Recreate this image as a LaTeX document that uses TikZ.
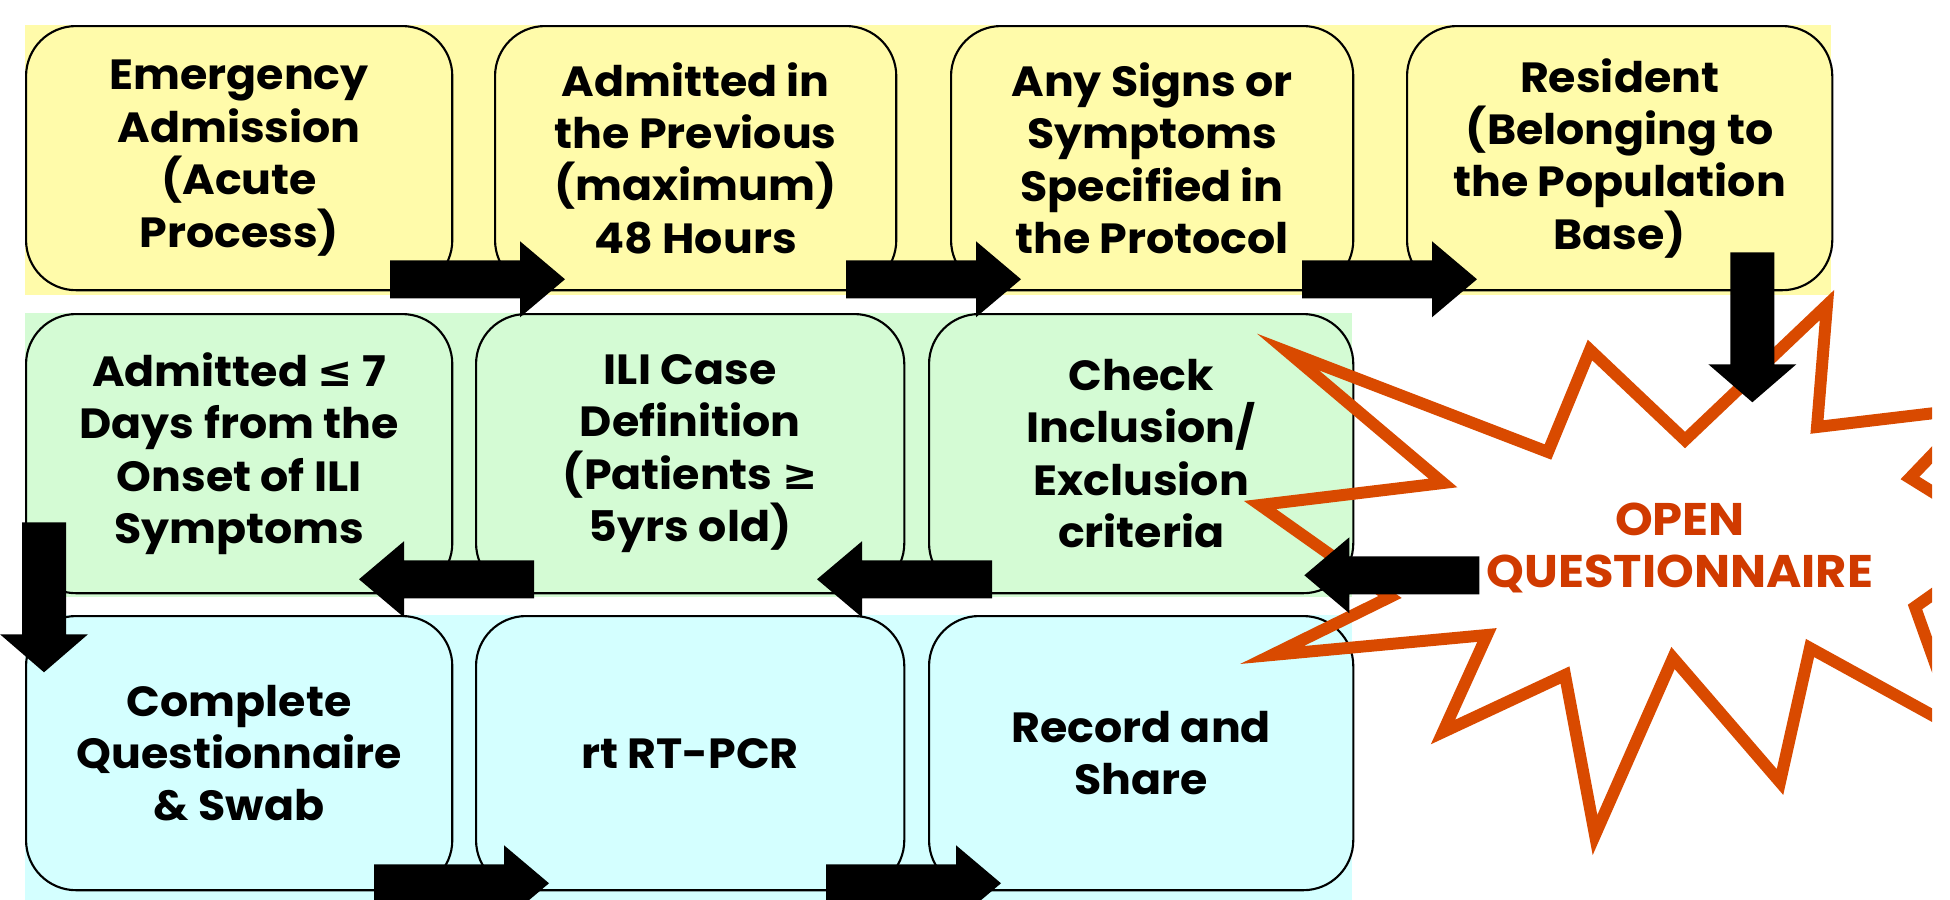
\documentclass[tikz,border=0pt]{standalone}
\usepackage{fontspec}
\setmainfont{Poppins}[FakeStretch=1.05]
\newfontfamily\symfont{DejaVu Sans}
\usetikzlibrary{calc,positioning}

\definecolor{rowyellow}{RGB}{255,251,170}
\definecolor{rowgreen}{RGB}{212,251,212}
\definecolor{rowcyan}{RGB}{212,255,255}
\definecolor{burstline}{RGB}{217,74,0}
\definecolor{bursttext}{RGB}{208,58,0}

% block arrows, drawn pointing right from the tail at (0,0)
\tikzset{
  pics/harrow/.style={code={
    \fill (0,-19) -- (130,-19) -- (130,-38) -- (175,0) -- (130,38) -- (130,19) -- (0,19) -- cycle;}},
  pics/varrow/.style={code={
    \fill (0,-22) -- (112,-22) -- (112,-44) -- (150,0) -- (112,44) -- (112,22) -- (0,22) -- cycle;}},
  stage/.style={draw, line width=0.6pt, rounded corners=0.5cm, fill=#1, anchor=north west,
    align=center, inner sep=0pt, font=\bfseries\fontsize{12}{14.9}\selectfont}
}

\begin{document}
\begin{tikzpicture}[x=0.01cm,y=-0.01cm]
\useasboundingbox (0,0) rectangle (1950,900);

% row backgrounds
\fill[rowyellow] (25,25) rectangle (1831,295);
\fill[rowgreen] (25,313) rectangle (1352,597);
\fill[rowcyan] (25,615) rectangle (1352,900);

% first row: admission
\node[stage=rowyellow, minimum width=4.26cm, minimum height=2.64cm] (e1) at (25,25)
  {Emergency\\Admission\\(Acute\\Process)};
\node[stage=rowyellow, minimum width=4.01cm, minimum height=2.64cm] (e2) at (494,25)
  {Admitted in\\the Previous\\(maximum)\\48 Hours};
\node[stage=rowyellow, minimum width=4.02cm, minimum height=2.64cm] (e3) at (950,25)
  {Any Signs or\\Symptoms\\Specified in\\the Protocol};
\node[stage=rowyellow, minimum width=4.25cm, minimum height=2.64cm] (e4) at (1406,25)
  {Resident\\(Belonging to\\the Population\\Base)};

% second row: eligibility
\node[stage=rowgreen, minimum width=4.26cm, minimum height=2.79cm] (c1) at (25,313)
  {Admitted {\symfont\bfseries≤} 7\\Days from the\\Onset of ILI\\Symptoms};
\node[stage=rowgreen, minimum width=4.28cm, minimum height=2.79cm] (c2) at (475,313)
  {ILI Case\\Definition\\(Patients {\symfont\bfseries≥}\\5yrs old)};
\node[stage=rowgreen, minimum width=4.24cm, minimum height=2.79cm] (c3) at (928,313)
  {Check\\Inclusion/\\Exclusion\\criteria};

% third row: sampling
\node[stage=rowcyan, minimum width=4.26cm, minimum height=2.74cm] (r1) at (25,615)
  {Complete\\Questionnaire\\\& Swab};
\node[stage=rowcyan, minimum width=4.28cm, minimum height=2.74cm] (r2) at (475,615)
  {rt RT-PCR};
\node[stage=rowcyan, minimum width=4.24cm, minimum height=2.74cm] (r3) at (928,615)
  {Record and\\Share};

% the burst, cut at the right margin
\begin{scope}
\clip (0,0) rectangle (1932,900);
\draw[burstline, line width=3.4pt]
  (1288,352) -- (1548,452) -- (1590,350) -- (1685,440) -- (1827,305) -- (1817,427)
  -- (1977,408) -- (1910,478) -- (2010,540) -- (1915,607) -- (1959,730) -- (1810,648)
  -- (1780,782) -- (1673,658) -- (1595,835) -- (1565,675) -- (1443,732) -- (1487,635)
  -- (1272,655) -- (1390,597) -- (1260,505) -- (1443,483) -- cycle;
\end{scope}
\node[bursttext, align=center, font=\bfseries\fontsize{13}{14.8}\selectfont] (open) at (1680,548)
  {OPEN\\QUESTIONNAIRE};

% arrows between the stages
\pic at ($(e2.south west)+(-104,-12)$) {harrow};
\pic at ($(e3.south west)+(-104,-12)$) {harrow};
\pic at ($(e4.south west)+(-104,-12)$) {harrow};
\pic[rotate=-90] at ($(e4.south east)+(-81,-39)$) {varrow};
\pic[rotate=180] at ($(c3.south east)+(125,-19)$) {harrow};
\pic[rotate=180] at ($(c3.south west)+(64,-15)$) {harrow};
\pic[rotate=180] at ($(c2.south west)+(59,-15)$) {harrow};
\pic[rotate=-90] at ($(c1.south west)+(19,-72)$) {varrow};
\pic at ($(r2.south west)+(-101,-8)$) {harrow};
\pic at ($(r3.south west)+(-102,-8)$) {harrow};
\end{tikzpicture}
\end{document}
